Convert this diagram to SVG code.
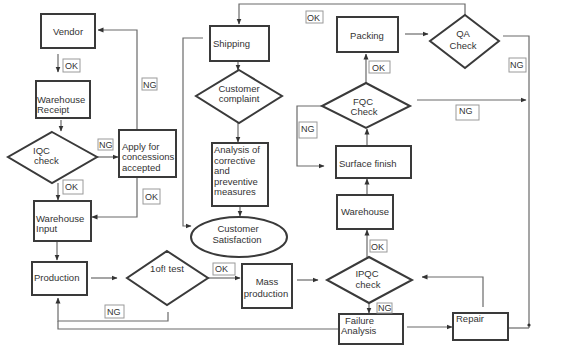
<svg xmlns="http://www.w3.org/2000/svg" width="574" height="350" viewBox="0 0 574 350">
<style>
.box{fill:#fff;stroke:#3a3a3a;stroke-width:2}
.dia{fill:#fff;stroke:#3a3a3a;stroke-width:2}
.ln{fill:none;stroke:#6a6a6a;stroke-width:1.2}
.lb{fill:#fff;stroke:#9a9a9a;stroke-width:1}
text{font-family:"Liberation Sans",Arial,sans-serif;font-size:9.5px;fill:#333}
.c{text-anchor:middle}
.s{font-size:9px}
</style>
<defs>
<marker id="a" viewBox="0 0 6 6" refX="5.5" refY="3" markerWidth="5" markerHeight="5" orient="auto">
<path d="M0,0.5 L6,3 L0,5.5 Z" fill="#333"/>
</marker>
</defs>
<rect width="574" height="350" fill="#fff"/>

<g id="connectors">
<path class="ln" d="M58,54 V72" marker-end="url(#a)"/>
<path class="ln" d="M61,120 V131" marker-end="url(#a)"/>
<path class="ln" d="M97,157 H118" marker-end="url(#a)"/>
<path class="ln" d="M137,130 V30 H98" marker-end="url(#a)"/>
<path class="ln" d="M137,178 V217 H92" marker-end="url(#a)"/>
<path class="ln" d="M58,183 V200" marker-end="url(#a)"/>
<path class="ln" d="M57,242 V260" marker-end="url(#a)"/>
<path class="ln" d="M91,278 H117" marker-end="url(#a)"/>
<path class="ln" d="M168,312 V321 H58 V298" marker-end="url(#a)"/>
<path class="ln" d="M339,329 H58 V321"/>
<path class="ln" d="M208,278 H240" marker-end="url(#a)"/>
<path class="ln" d="M297,280 H318" marker-end="url(#a)"/>
<path class="ln" d="M483,307 V277 H422" marker-end="url(#a)"/>
<path class="ln" d="M369,303 V313" marker-end="url(#a)"/>
<path class="ln" d="M407,327 H452" marker-end="url(#a)"/>
<path class="ln" d="M508,328 H529"/>
<path class="ln" d="M503,36 H529 V328"/>
<circle cx="529" cy="325" r="1.6" fill="#333"/>
<path class="ln" d="M417,100 H526" marker-end="url(#a)"/>
<path class="ln" d="M465,15 V4 H239 V24" marker-end="url(#a)"/>
<path class="ln" d="M405,34 H428" marker-end="url(#a)"/>
<path class="ln" d="M366,83 V54" marker-end="url(#a)"/>
<path class="ln" d="M322,106 H297 V166 H324" marker-end="url(#a)"/>
<path class="ln" d="M367,146 V129" marker-end="url(#a)"/>
<path class="ln" d="M367,195 V179" marker-end="url(#a)"/>
<path class="ln" d="M367,257 V230" marker-end="url(#a)"/>
<path class="ln" d="M203,38 H183 V226 H191" marker-end="url(#a)"/>
<path class="ln" d="M238,61 V70" marker-end="url(#a)"/>
<path class="ln" d="M238,123 V142" marker-end="url(#a)"/>
<path class="ln" d="M240,206 V216" marker-end="url(#a)"/>
</g>

<g id="vendor"><rect class="box" x="41" y="14" width="54" height="34"/><text class="c" x="68" y="35">Vendor</text></g>
<g id="warehouse-receipt"><rect class="box" x="36" y="81" width="54" height="37"/><text x="37" y="103">Warehouse</text><text x="37" y="113">Receipt</text></g>
<g id="iqc-check"><polygon class="dia" points="52,132 97,157 52,183 8,157"/><text x="33" y="154">IQC</text><text x="34" y="164">check</text></g>
<g id="apply"><rect class="box" x="119" y="130" width="57" height="47"/><text x="122" y="150">Apply for</text><text x="122" y="160">concessions</text><text x="122" y="171">accepted</text></g>
<g id="warehouse-input"><rect class="box" x="34" y="201" width="57" height="40"/><text x="36" y="222">Warehouse</text><text x="36" y="232">Input</text></g>
<g id="production"><rect class="box" x="32" y="262" width="55" height="33"/><text x="34" y="281">Production</text></g>
<g id="test"><polygon class="dia" points="167,251 208,278 167,305 127,278"/><text class="c" x="167" y="272">1of! test</text></g>
<g id="mass-production"><rect class="box" x="242" y="264" width="50" height="44"/><text class="c" x="267" y="285">Mass</text><text class="c" x="266" y="297">production</text></g>
<g id="ipqc-check"><polygon class="dia" points="369,257 412,280 369,303 327,280"/><text class="c" x="367" y="277">IPQC</text><text class="c" x="368" y="288">check</text></g>
<g id="failure-analysis"><rect class="box" x="339" y="314" width="64" height="30"/><text x="345" y="324">Failure</text><text x="341" y="334">Analysis</text></g>
<g id="repair"><rect class="box" x="453" y="313" width="55" height="27"/><text x="456" y="322">Repair</text></g>
<g id="warehouse"><rect class="box" x="337" y="195" width="56" height="34"/><text class="c" x="365" y="215">Warehouse</text></g>
<g id="surface-finish"><rect class="box" x="336" y="146" width="75" height="32"/><text x="339" y="167">Surface finish</text></g>
<g id="fqc-check"><polygon class="dia" points="366,83 410,106 366,128 322,106"/><text class="c" x="363" y="105">FQC</text><text class="c" x="364" y="115">Check</text></g>
<g id="packing"><rect class="box" x="337" y="17" width="61" height="35"/><text class="c" x="367" y="39">Packing</text></g>
<g id="qa-check"><polygon class="dia" points="465,15 499,41 465,68 430,41"/><text class="c" x="463" y="37">QA</text><text class="c" x="463" y="49">Check</text></g>
<g id="shipping"><rect class="box" x="210" y="26" width="59" height="35"/><text x="213" y="47">Shipping</text></g>
<g id="customer-complaint"><polygon class="dia" points="239,70 282,96 239,123 196,96"/><text class="c" x="239" y="92">Customer</text><text class="c" x="239" y="102">complaint</text></g>
<g id="analysis"><rect class="box" x="212" y="143" width="56" height="63"/><text x="214" y="153">Analysis of</text><text x="214" y="163.5">corrective</text><text x="214" y="174">and</text><text x="214" y="184.5">preventive</text><text x="214" y="195">measures</text></g>
<g id="customer-satisfaction"><ellipse cx="239" cy="237" rx="48" ry="20" fill="#fff" stroke="#3a3a3a" stroke-width="2"/><text class="c" x="238" y="232">Customer</text><text class="c" x="237" y="243">Satisfaction</text></g>

<g id="labels">
<rect class="lb" x="63" y="59" width="17" height="13"/><text class="s" x="65" y="69">OK</text>
<rect class="lb" x="142" y="78" width="15" height="12"/><text class="s" x="143" y="88">NG</text>
<rect class="lb" x="98" y="139" width="15" height="11"/><text class="s" x="99" y="148">NG</text>
<rect class="lb" x="63" y="180" width="20" height="14"/><text class="s" x="65" y="190">OK</text>
<rect class="lb" x="143" y="189" width="17" height="15"/><text class="s" x="145" y="200">OK</text>
<rect class="lb" x="105" y="305" width="19" height="13"/><text class="s" x="107" y="315">NG</text>
<rect class="lb" x="213" y="263" width="22" height="12"/><text class="s" x="215" y="272">OK</text>
<rect class="lb" x="377" y="303" width="15" height="10"/><text class="s" x="378" y="311">NG</text>
<rect class="lb" x="370" y="240" width="17" height="12"/><text class="s" x="371" y="250">OK</text>
<rect class="lb" x="299" y="122" width="18" height="16"/><text class="s" x="301" y="132">NG</text>
<rect class="lb" x="369" y="61" width="21" height="12"/><text class="s" x="372" y="71">OK</text>
<rect class="lb" x="456" y="105" width="23" height="15"/><text class="s" x="459" y="114">NG</text>
<rect class="lb" x="509" y="58" width="17" height="14"/><text class="s" x="510" y="68">NG</text>
<rect class="lb" x="306" y="11" width="17" height="12"/><text class="s" x="307" y="21">OK</text>
</g>
</svg>
